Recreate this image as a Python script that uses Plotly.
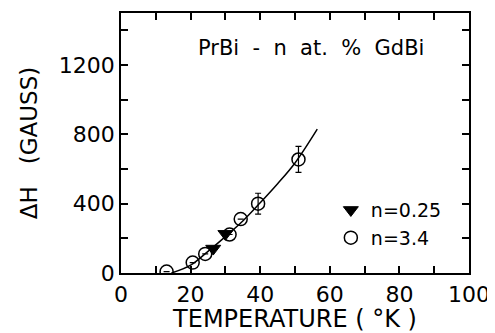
import plotly.graph_objects as go

# data
t_circ = [13.1, 20.6, 24.2, 31.2, 34.4, 39.4, 51.0]
h_circ = [8, 60, 110, 222, 311, 400, 655]
err_circ = [0, 0, 0, 0, 0, 60, 75]
t_tri = [26.5, 30.0]
h_tri = [141, 226]
t_fit = [14.5, 20, 25, 30, 35, 40, 45, 50, 56.4]
h_fit = [0, 45, 125, 210, 300, 405, 515, 635, 830]

x_ticks = [0, 10, 20, 30, 40, 50, 60, 70, 80, 90, 100]
x_labels = ["0", "", "20", "", "40", "", "60", "", "80", "", "100"]
y_ticks = [0, 200, 400, 600, 800, 1000, 1200, 1400]
y_labels = ["0", "", "400", "", "800", "", "1200", ""]

FONT = "DejaVu Sans"
fig = go.Figure()
fig.add_trace(go.Scatter(x=t_fit, y=h_fit, mode="lines", line=dict(color="black", width=1.5, shape="spline"),
                         showlegend=False, hoverinfo="skip"))
fig.add_trace(go.Scatter(x=t_tri, y=h_tri, mode="markers", name="n=0.25",
                         marker=dict(symbol="triangle-down", size=13, color="black", line=dict(color="black", width=1))))
fig.add_trace(go.Scatter(x=t_circ, y=h_circ, mode="markers", name="n=3.4",
                         error_y=dict(type="data", array=err_circ, color="black", thickness=1.2, width=3),
                         marker=dict(symbol="circle-open", size=13, color="black", line=dict(color="black", width=1.5))))

axis_common = dict(showline=True, linecolor="black", linewidth=1.5, mirror="ticks", ticks="inside",
                   ticklen=7, tickwidth=1.5, tickcolor="black", showgrid=False, zeroline=False,
                   automargin=False, tickfont=dict(family=FONT, size=22, color="black"))
fig.update_xaxes(range=[0, 100], tickmode="array", tickvals=x_ticks, ticktext=x_labels,
                 ticklabelstandoff=1,
                 title=dict(text="TEMPERATURE ( °K )", font=dict(family=FONT, size=24, color="black"), standoff=8),
                 **axis_common)
fig.update_yaxes(range=[0, 1500], tickmode="array", tickvals=y_ticks, ticktext=y_labels,
                 ticklabelstandoff=0,
                 title=dict(text="ΔH   (GAUSS)", font=dict(family=FONT, size=23, color="black"), standoff=15),
                 **axis_common)

fig.add_annotation(text="PrBi  -  n  at.  %  GdBi", xref="paper", yref="paper", x=0.545, y=0.865,
                   xanchor="center", yanchor="middle",
                   showarrow=False, font=dict(family=FONT, size=21, color="black"))

fig.update_layout(width=487, height=325, margin=dict(l=113, r=26, t=5, b=60),
                  plot_bgcolor="white", paper_bgcolor="white",
                  legend=dict(x=0.603, y=0.315, xanchor="left", yanchor="top", bgcolor="rgba(0,0,0,0)",
                              font=dict(family=FONT, size=19, color="black"), tracegroupgap=0,
                              itemwidth=30),
                  font=dict(family=FONT, color="black"))
fig.write_html("out.html")
